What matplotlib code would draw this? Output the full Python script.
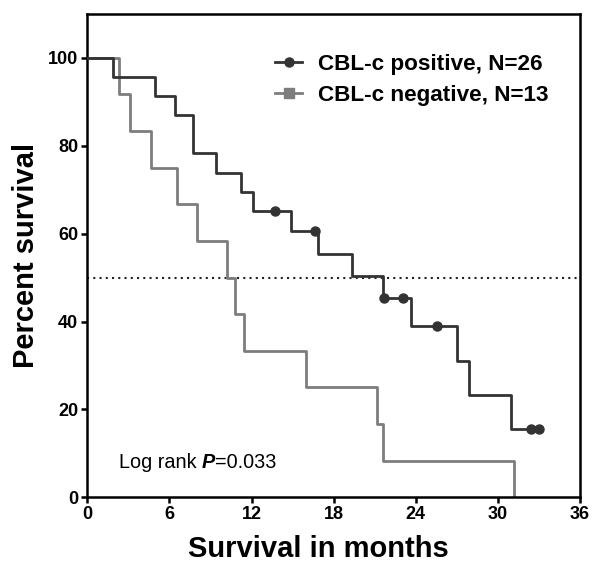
#!/usr/bin/env python3

import matplotlib
matplotlib.use("Agg")
import matplotlib.pyplot as plt
from matplotlib.lines import Line2D

plt.rcParams["font.family"] = ["Liberation Sans", "DejaVu Sans"]

# Kaplan-Meier steps (months, percent survival)
pos_times = [0, 1.85, 4.96, 6.42, 7.71, 9.41, 11.23, 12.08, 14.88, 16.87, 19.35, 21.6, 23.68, 27.0, 27.9, 30.98, 33.0]
pos_surv = [100, 95.7, 91.3, 87.0, 78.3, 73.9, 69.6, 65.2, 60.5, 55.4, 50.3, 45.3, 38.9, 31.0, 23.2, 15.5, 15.5]
pos_cens_t = [13.7, 16.63, 21.7, 23.1, 25.55, 32.4, 33.0]
pos_cens_s = [65.2, 60.5, 45.3, 45.3, 38.9, 15.5, 15.5]

neg_times = [0, 2.29, 3.09, 4.67, 6.54, 8.0, 10.19, 10.82, 11.47, 16.0, 21.2, 21.6, 31.17]
neg_surv = [100, 91.7, 83.3, 75.0, 66.7, 58.3, 50.0, 41.7, 33.3, 25.0, 16.7, 8.3, 0]

labels = ["CBL-c positive, N=26", "CBL-c negative, N=13"]
xticks = [0, 6, 12, 18, 24, 30, 36]
yticks = [0, 20, 40, 60, 80, 100]

c_pos = "#333333"
c_neg = "#7d7d7d"

fig = plt.figure(figsize=(5.92, 5.65), dpi=100)
ax = fig.add_axes([0.1475, 0.1198, 0.8322, 0.8554])

ax.axhline(50, color="#222222", lw=1.5, ls=(0, (1, 2)), zorder=1)

ax.step(neg_times, neg_surv, where="post", color=c_neg, lw=2.0, zorder=2)
ax.step(pos_times, pos_surv, where="post", color=c_pos, lw=2.0, zorder=3)
ax.plot(pos_cens_t, pos_cens_s, "o", color=c_pos, ms=6.5, zorder=4)

ax.set_xlim(0, 36)
ax.set_ylim(0, 110)
ax.set_xticks(xticks)
ax.set_yticks(yticks)
for s in ax.spines.values():
    s.set_linewidth(1.8)
ax.tick_params(direction="out", length=4.5, width=1.8, labelsize=13, pad=2)
for lab in ax.get_xticklabels() + ax.get_yticklabels():
    lab.set_fontweight("bold")

ax.set_xlabel("Survival in months", fontsize=21, fontweight="bold", va="center")
ax.set_ylabel("Percent survival", fontsize=21, fontweight="bold", va="center")
ax.xaxis.set_label_coords(0.47, -0.107)
ax.yaxis.set_label_coords(-0.125, 0.5)

handles = [
    Line2D([], [], color=c_pos, lw=2.0, marker="o", ms=6.5),
    Line2D([], [], color=c_neg, lw=2.0, marker="s", ms=6.5),
]
leg = ax.legend(handles, labels, loc="upper left", bbox_to_anchor=(0.381, 0.918),
                frameon=False, borderpad=0, borderaxespad=0, handlelength=1.2,
                handletextpad=0.7, labelspacing=0.45,
                prop={"size": 16.2, "weight": "bold"})

t1 = ax.text(2.31, 6.7, "Log rank ", fontsize=14.3, va="baseline")
t2 = ax.annotate("P", xy=(1, 0), xycoords=t1, va="bottom", fontsize=14.3,
                 fontweight="bold", fontstyle="italic")
ax.annotate("=0.033", xy=(1, 0), xycoords=t2, va="bottom", fontsize=14.3)

plt.savefig("out.png", dpi=100)
